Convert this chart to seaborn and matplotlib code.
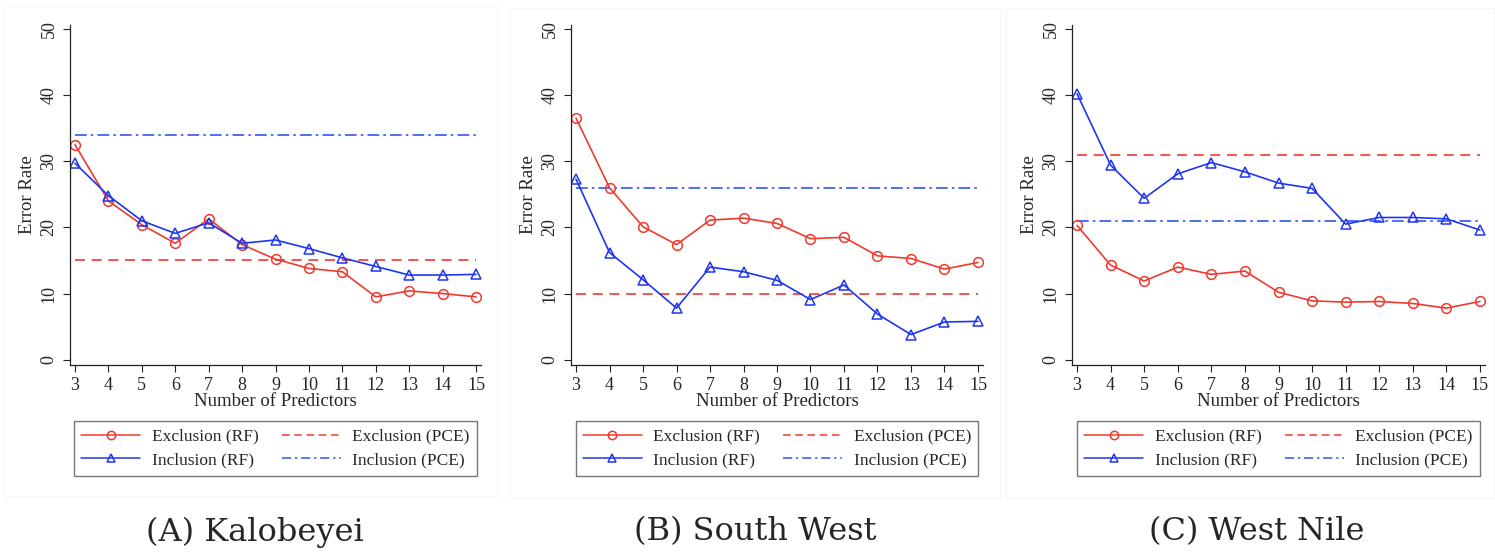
import numpy as np
import pandas as pd
import seaborn as sns
import matplotlib.pyplot as plt
from matplotlib.lines import Line2D
from matplotlib.patches import Rectangle

# number of predictors on the x axis
predictors = list(range(3, 16))

# random forest error rates
kalobeyei_excl_rf = [32.5, 24.0, 20.4, 17.6, 21.3, 17.4, 15.2, 13.8, 13.3, 9.5, 10.4, 10.0, 9.5]
kalobeyei_incl_rf = [29.7, 24.8, 21.0, 19.1, 20.7, 17.6, 18.1, 16.8, 15.4, 14.1, 12.8, 12.8, 12.9]
southwest_excl_rf = [36.5, 26.0, 20.1, 17.4, 21.1, 21.4, 20.6, 18.3, 18.5, 15.7, 15.3, 13.7, 14.7]
southwest_incl_rf = [27.3, 16.2, 12.1, 7.8, 14.0, 13.3, 12.0, 9.1, 11.3, 6.9, 3.8, 5.7, 5.8]
westnile_excl_rf = [20.3, 14.3, 11.9, 14.0, 12.9, 13.4, 10.2, 8.9, 8.7, 8.8, 8.5, 7.8, 8.8]
westnile_incl_rf = [40.2, 29.4, 24.4, 28.1, 29.8, 28.4, 26.7, 25.9, 20.5, 21.5, 21.5, 21.3, 19.6]

# PCE benchmark error rates (constant lines)
excl_pce = [15, 10, 31]
incl_pce = [34, 26, 21]

captions = ["(A) Kalobeyei", "(B) South West", "(C) West Nile"]

RED = "#ef3a2e"
BLUE = "#1f36f0"
BLUE_PCE = "#2f55f5"

sns.set_style("white")
plt.rcParams["font.family"] = ["Liberation Serif", "DejaVu Serif"]

fig = plt.figure(figsize=(14.95, 5.52), dpi=100)
W, H = 1495, 552

panels = [
    (kalobeyei_excl_rf, kalobeyei_incl_rf, 70, 481, 255),
    (southwest_excl_rf, southwest_incl_rf, 571, 983, 755),
    (westnile_excl_rf, westnile_incl_rf, 1072, 1485, 1257),
]
frames = [(4, 6, 493, 490), (510, 8, 490, 490), (1006, 8, 488, 490)]

for fx, fy, fw, fh in frames:
    fig.patches.append(Rectangle((fx / W, 1 - (fy + fh) / H), fw / W, fh / H,
                                 transform=fig.transFigure, fill=False,
                                 edgecolor="#f6f6f6", linewidth=0.8))

for i, (excl, incl, x0, x1, cx) in enumerate(panels):
    ax = fig.add_axes([x0 / W, (H - 365) / H, (x1 - x0) / W, 340 / H])
    df = pd.DataFrame({
        "predictors": predictors * 4,
        "rate": excl + incl + [excl_pce[i]] * 13 + [incl_pce[i]] * 13,
        "series": (["Exclusion (RF)"] * 13 + ["Inclusion (RF)"] * 13
                   + ["Exclusion (PCE)"] * 13 + ["Inclusion (PCE)"] * 13),
    })
    sns.lineplot(data=df[df.series == "Exclusion (PCE)"], x="predictors", y="rate",
                 color=RED, lw=1.2, ax=ax, legend=False,
                 linestyle=(0, (6, 4)))
    sns.lineplot(data=df[df.series == "Inclusion (PCE)"], x="predictors", y="rate",
                 color=BLUE_PCE, lw=1.2, ax=ax, legend=False,
                 linestyle=(0, (7, 2.5, 1.5, 2.5)))
    sns.lineplot(data=df[df.series == "Exclusion (RF)"], x="predictors", y="rate",
                 color=RED, lw=1.2, marker="o", markersize=7, markerfacecolor="none",
                 markeredgecolor=RED, markeredgewidth=1.1, ax=ax, legend=False)
    sns.lineplot(data=df[df.series == "Inclusion (RF)"], x="predictors", y="rate",
                 color=BLUE, lw=1.2, marker="^", markersize=7, markerfacecolor="none",
                 markeredgecolor=BLUE, markeredgewidth=1.1, ax=ax, legend=False)

    ax.set_xlim(2.85, 15.15)
    ax.set_ylim(-0.8, 50.6)
    ax.set_xticks(predictors)
    ax.set_yticks([0, 10, 20, 30, 40, 50])
    ax.set_yticklabels(["0", "10", "20", "30", "40", "50"], rotation=90, va="center")
    ax.tick_params(axis="both", direction="out", length=5, width=0.8,
                   color="#222222", labelsize=13, left=True, bottom=True)
    ax.tick_params(axis="x", pad=4)
    ax.tick_params(axis="y", pad=4)
    ax.set_xlabel("Number of Predictors", fontsize=13.5, labelpad=-1)
    ax.set_ylabel("Error Rate", fontsize=13.5, labelpad=3)
    sns.despine(ax=ax)
    for s in ("left", "bottom"):
        ax.spines[s].set_color("#222222")
        ax.spines[s].set_linewidth(0.9)

    handles = [
        Line2D([], [], color=RED, lw=1.1, marker="o", markersize=6,
               markerfacecolor="none", markeredgewidth=1.1),
        Line2D([], [], color=BLUE, lw=1.1, marker="^", markersize=6,
               markerfacecolor="none", markeredgewidth=1.1),
        Line2D([], [], color=RED, lw=1.1, linestyle=(0, (5, 3))),
        Line2D([], [], color=BLUE_PCE, lw=1.1, linestyle=(0, (6, 2.5, 1.5, 2.5))),
    ]
    labels = ["Exclusion (RF)", "Inclusion (RF)", "Exclusion (PCE)", "Inclusion (PCE)"]
    leg = ax.legend(handles, labels, ncol=2, loc="center",
                    bbox_to_anchor=((x0 + x1) / 2 / W, 1 - 448.5 / H),
                    bbox_transform=fig.transFigure, fontsize=12.5, frameon=True,
                    fancybox=False, edgecolor="#555555", handlelength=3.4,
                    columnspacing=1.35, handletextpad=0.65, labelspacing=0.45,
                    borderpad=0.4)
    leg.get_frame().set_linewidth(1.0)

    fig.text(cx / W, 1 - 532 / H, captions[i], ha="center", va="center",
             fontsize=23, family=["DejaVu Serif"])

fig.savefig("out.png", dpi=100, facecolor="white")
